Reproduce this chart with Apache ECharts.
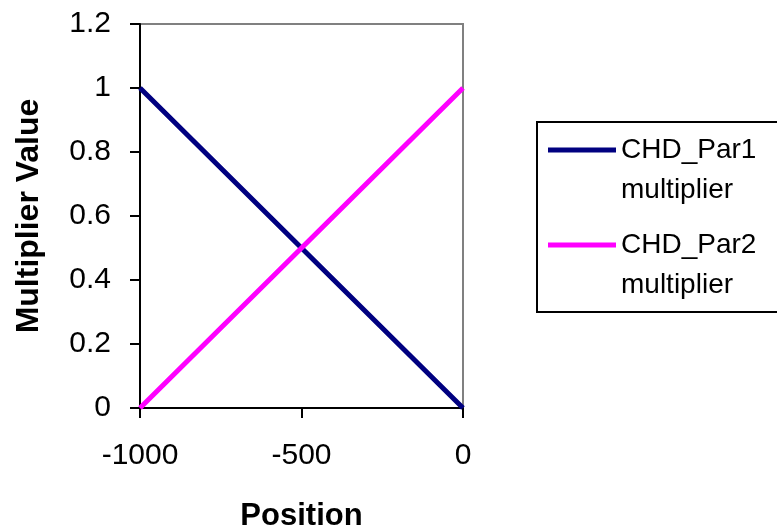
<!DOCTYPE html>
<html>
<head>
<meta charset="utf-8">
<script src="https://cdn.jsdelivr.net/npm/echarts@6/dist/echarts.min.js"></script>
<style>html,body{margin:0;padding:0;background:#fff;}#chart{width:777px;height:531px;}</style>
</head>
<body>
<div id="chart"></div>
<script>
const positions = [-1000, -500, 0];
const par1Values = [1, 0.5, 0];
const par2Values = [0, 0.5, 1];
const seriesNames = ['CHD_Par1\nmultiplier', 'CHD_Par2\nmultiplier'];
const xTicks = [-1000, -500, 0];
const yTicks = [0, 0.2, 0.4, 0.6, 0.8, 1, 1.2];

const FONT = 'Liberation Sans, Arial, sans-serif';
const chart = echarts.init(document.getElementById('chart'), null, {renderer: 'canvas'});
chart.setOption({
  animation: false,
  backgroundColor: '#fff',
  grid: {left: 140, right: 314, top: 24, bottom: 123, show: true, borderColor: '#808080', borderWidth: 2,
         backgroundColor: 'transparent', containLabel: false, outerBoundsMode: 'none'},
  xAxis: {
    type: 'value', min: xTicks[0], max: xTicks[xTicks.length - 1], interval: 500,
    name: 'Position', nameLocation: 'middle', nameGap: 93,
    nameTextStyle: {fontFamily: FONT, fontSize: 31, fontWeight: 'bold', color: '#000'},
    axisLine: {show: true, onZero: false, lineStyle: {color: '#000', width: 2}},
    axisTick: {show: true, inside: false, length: 10, lineStyle: {color: '#000', width: 2}},
    axisLabel: {fontFamily: FONT, fontSize: 30, color: '#000', margin: 33, formatter: v => String(v)},
    splitLine: {show: false}
  },
  yAxis: {
    type: 'value', min: yTicks[0], max: yTicks[yTicks.length - 1], interval: 0.2,
    name: 'Multiplier Value', nameLocation: 'middle', nameGap: 95,
    nameTextStyle: {fontFamily: FONT, fontSize: 32, fontWeight: 'bold', color: '#000'},
    axisLine: {show: true, onZero: false, lineStyle: {color: '#000', width: 2}},
    axisTick: {show: true, inside: false, length: 10, lineStyle: {color: '#000', width: 2}},
    axisLabel: {fontFamily: FONT, fontSize: 30, color: '#000', margin: 29, formatter: v => String(Math.round(v * 10) / 10)},
    splitLine: {show: false}
  },
  legend: {
    orient: 'vertical', left: 537, top: 122,
    padding: [8, 30, 7, 11],
    itemWidth: 68, itemHeight: 80, itemGap: 15,
    icon: 'path://M0,17.5H68V22.5H0Z M0,0L0,0 M68,80L68,80',
    borderColor: '#000', borderWidth: 2,
    itemStyle: {borderWidth: 0},
    textStyle: {fontFamily: FONT, fontSize: 28, lineHeight: 40, color: '#000'},
    data: seriesNames
  },
  series: [
    {name: seriesNames[0], type: 'line', data: positions.map((p, i) => [p, par1Values[i]]),
     showSymbol: false, symbol: 'none', color: '#000080', lineStyle: {color: '#000080', width: 5}},
    {name: seriesNames[1], type: 'line', data: positions.map((p, i) => [p, par2Values[i]]),
     showSymbol: false, symbol: 'none', color: '#FF00FF', lineStyle: {color: '#FF00FF', width: 5}}
  ]
});
</script>
</body>
</html>
